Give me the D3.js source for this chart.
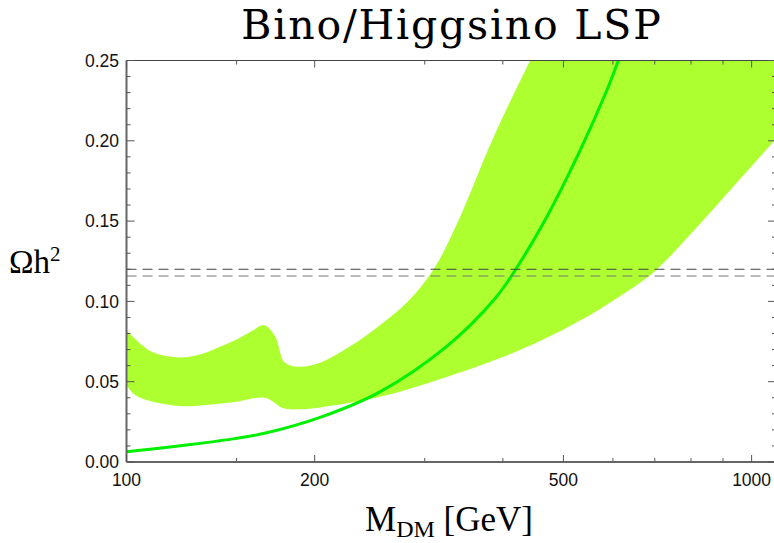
<!DOCTYPE html>
<html>
<head>
<meta charset="utf-8">
<script src="https://cdn.jsdelivr.net/npm/d3@7"></script>
<style>
  body { margin: 0; background: #fff; }
  svg { display: block; }
</style>
</head>
<body>
<svg id="chart" width="774" height="543"></svg>
<script>
// band: upper edge (mass in GeV, omega h^2)
var upperMass  = [100, 105.1, 110.4, 121.8, 132.7, 141.1, 150, 159.4, 166, 172.8, 178.3, 182.7, 189.5, 204, 227.9, 254.4, 282.1, 309.3, 339.2, 384.4, 442.2, 503];
var upperOmega = [0.082, 0.0738, 0.0682, 0.0651, 0.0676, 0.0717, 0.0763, 0.0821, 0.0852, 0.0784, 0.0628, 0.0603, 0.0593, 0.0618, 0.072, 0.0852, 0.1001, 0.1194, 0.1499, 0.2002, 0.25, 0.293];
// band: lower edge
var lowerMass  = [100, 102.5, 107.7, 121.8, 132.7, 150, 166.6, 178.3, 189.5, 204, 254.4, 325.3, 415.9, 470.2, 531.7, 572.2, 639.2, 700.9, 827, 935, 1013, 1094];
var lowerOmega = [0.0479, 0.0427, 0.0386, 0.0348, 0.0354, 0.0375, 0.04, 0.0334, 0.0328, 0.034, 0.0406, 0.053, 0.068, 0.0773, 0.0881, 0.0953, 0.1074, 0.119, 0.1484, 0.1716, 0.1867, 0.2013];
// central curve
var lineMass  = [100, 124.8, 150, 167.6, 204, 254.4, 325.3, 388.7, 418.5, 470.2, 531.7, 586.5, 612.2, 640];
var lineOmega = [0.0064, 0.0106, 0.0147, 0.0182, 0.0278, 0.0437, 0.072, 0.1018, 0.1194, 0.1526, 0.194, 0.2313, 0.25, 0.27];
// observed relic abundance (dashed lines)
var planckLines = [0.120, 0.1158];

var xMajor = [100, 200, 500, 1000];
var xMinor = [150, 300, 400, 600, 700, 800, 900];
var yMajor = [0, 0.05, 0.10, 0.15, 0.20, 0.25];
var yMinor = d3.range(0, 26).map(function(i) { return i / 100; }).filter(function(v) { return Math.round(v * 100) % 5 !== 0; });

function drawChart() {
  var pL = 126.5, pR = 776, pT = 60.5, pB = 462;

  var x = d3.scaleLog().domain([100, 1094]).range([pL, pR]);
  var y = d3.scaleLinear().domain([0, 0.25]).range([pB, pT]);

  var svg = d3.select("#chart");

  svg.append("clipPath").attr("id", "plotClip")
    .append("rect")
    .attr("x", pL).attr("y", pT)
    .attr("width", pR - pL).attr("height", pB - pT);

  var plot = svg.append("g").attr("clip-path", "url(#plotClip)");

  // band polygon: upper edge forward, over the top-right corner, lower edge backwards
  var upperPts = upperMass.map(function(m, i) { return [x(m), y(upperOmega[i])]; });
  var lowerPts = lowerMass.map(function(m, i) { return [x(m), y(lowerOmega[i])]; });

  var curve = d3.line().curve(d3.curveCatmullRom.alpha(0.5));
  var upperPath = curve(upperPts);
  var lowerPath = curve(lowerPts.slice().reverse());
  var bandPath = upperPath +
    "L" + (pR + 20) + "," + (pT - 20) +
    "L" + lowerPath.slice(1) + "Z";

  plot.append("path")
    .attr("d", bandPath)
    .attr("fill", "#adff2f")
    .attr("stroke", "none");

  // central curve
  plot.append("path")
    .datum(lineMass.map(function(m, i) { return [m, lineOmega[i]]; }))
    .attr("d", d3.line()
      .x(function(d) { return x(d[0]); })
      .y(function(d) { return y(d[1]); })
      .curve(d3.curveCatmullRom.alpha(0.5)))
    .attr("fill", "none")
    .attr("stroke", "#00f000")
    .attr("stroke-width", 3);

  // dashed lines
  plot.selectAll(".obs")
    .data(planckLines)
    .enter()
    .append("line")
    .attr("class", "obs")
    .attr("x1", pL).attr("x2", pR)
    .attr("y1", function(d) { return y(d); })
    .attr("y2", function(d) { return y(d); })
    .attr("stroke", function(d, i) { return i === 0 ? "#444" : "#777"; })
    .attr("stroke-width", 1)
    .attr("stroke-dasharray", "10,6");

  // frame
  var frame = svg.append("g");
  frame.append("line").attr("x1", pL).attr("x2", pR).attr("y1", pT).attr("y2", pT)
    .attr("stroke", "#444").attr("stroke-width", 1);
  frame.append("line").attr("x1", pR).attr("x2", pR).attr("y1", pT).attr("y2", pB)
    .attr("stroke", "#444").attr("stroke-width", 1);
  frame.append("line").attr("x1", pL).attr("x2", pR).attr("y1", pB).attr("y2", pB)
    .attr("stroke", "#333").attr("stroke-width", 1.5);
  frame.append("line").attr("x1", pL).attr("x2", pL).attr("y1", pT).attr("y2", pB)
    .attr("stroke", "#666").attr("stroke-width", 2);

  // ticks pointing inward on all four sides
  function xTicks(vals, len) {
    vals.forEach(function(v) {
      frame.append("line").attr("x1", x(v)).attr("x2", x(v)).attr("y1", pB).attr("y2", pB - len)
        .attr("stroke", "#555").attr("stroke-width", 1);
      frame.append("line").attr("x1", x(v)).attr("x2", x(v)).attr("y1", pT).attr("y2", pT + len)
        .attr("stroke", "#555").attr("stroke-width", 1);
    });
  }
  function yTicks(vals, len) {
    vals.forEach(function(v) {
      frame.append("line").attr("x1", pL).attr("x2", pL + len).attr("y1", y(v)).attr("y2", y(v))
        .attr("stroke", "#555").attr("stroke-width", 1);
      frame.append("line").attr("x1", pR).attr("x2", pR - len).attr("y1", y(v)).attr("y2", y(v))
        .attr("stroke", "#555").attr("stroke-width", 1);
    });
  }
  xTicks(xMajor, 7);
  xTicks(xMinor, 4);
  yTicks(yMajor, 8);
  yTicks(yMinor, 4);

  // tick labels
  svg.selectAll(".xlab")
    .data(xMajor)
    .enter()
    .append("text")
    .attr("class", "xlab")
    .attr("x", function(d) { return x(d); })
    .attr("y", 486)
    .attr("text-anchor", "middle")
    .attr("font-family", "Liberation Sans, Arial, sans-serif")
    .attr("font-size", 17.5)
    .attr("fill", "#111")
    .text(function(d) { return d; });

  svg.selectAll(".ylab")
    .data(yMajor)
    .enter()
    .append("text")
    .attr("class", "ylab")
    .attr("x", 119)
    .attr("y", function(d) { return y(d) + 6.3; })
    .attr("text-anchor", "end")
    .attr("font-family", "Liberation Sans, Arial, sans-serif")
    .attr("font-size", 17.5)
    .attr("fill", "#111")
    .text(function(d) { return d3.format(".2f")(d); });

  // title
  svg.append("text")
    .attr("x", 452)
    .attr("y", 38.5)
    .attr("text-anchor", "middle")
    .attr("font-family", "DejaVu Serif, serif")
    .attr("font-size", 41)
    .attr("letter-spacing", 1.8)
    .attr("fill", "#000")
    .text("Bino/Higgsino LSP");

  // y label
  var yl = svg.append("text")
    .attr("x", 9)
    .attr("y", 273)
    .attr("font-family", "Liberation Serif, serif")
    .attr("font-size", 33)
    .attr("fill", "#000");
  yl.append("tspan").text("Ωh");
  yl.append("tspan").attr("dy", -12).attr("font-size", 21).text("2");

  // x label
  var xl = svg.append("text")
    .attr("x", 365)
    .attr("y", 531)
    .attr("font-family", "Liberation Serif, serif")
    .attr("font-size", 35)
    .attr("fill", "#000");
  xl.append("tspan").text("M");
  xl.append("tspan").attr("dy", 6).attr("font-size", 24).text("DM");
  xl.append("tspan").attr("dy", -6).text(" [GeV]");
}

drawChart();
</script>
</body>
</html>
